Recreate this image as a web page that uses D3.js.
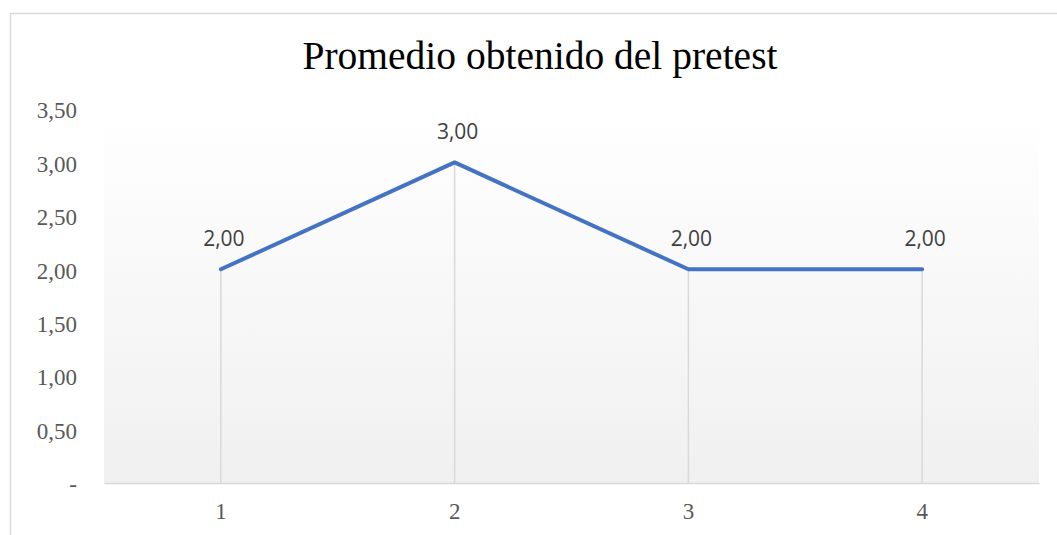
<!DOCTYPE html>
<html>
<head>
<meta charset="utf-8">
<script src="https://cdn.jsdelivr.net/npm/d3@7"></script>
<style>
  body { margin: 0; background: #fff; }
  svg { display: block; }
</style>
</head>
<body>
<div id="chart"></div>
<script>
// datos del pretest
var categories = ["1", "2", "3", "4"];
var values = [2, 3, 2, 2];
var yTicks = [0, 0.5, 1, 1.5, 2, 2.5, 3, 3.5];
var title = "Promedio obtenido del pretest";

var width = 1057,
    height = 535;

var plot = { left: 104, right: 1039, top: 109, bottom: 483 };

// formato con coma decimal, el cero se muestra como "-"
var fmt = function(v) {
  if (v === 0) return "-";
  return v.toFixed(2).replace(".", ",");
};

var svg = d3.select("#chart").append("svg")
    .attr("width", width)
    .attr("height", height);

var defs = svg.append("defs");
var grad = defs.append("linearGradient")
    .attr("id", "bg")
    .attr("x1", 0).attr("y1", 0)
    .attr("x2", 0).attr("y2", 1);
grad.append("stop").attr("offset", "0%").attr("stop-color", "#ffffff");
grad.append("stop").attr("offset", "100%").attr("stop-color", "#f0f0f0");

// chart border
svg.append("rect")
    .attr("x", 10.5)
    .attr("y", 13.5)
    .attr("width", 1080)
    .attr("height", 560)
    .attr("fill", "#fff")
    .attr("stroke", "#d9d9d9")
    .attr("stroke-width", 1.5);

var xScale = d3.scaleBand()
    .domain(categories)
    .range([plot.left, plot.right]);

var yScale = d3.scaleLinear()
    .domain([0, 3.5])
    .range([plot.bottom, plot.top]);

var cx = function(d) { return xScale(d) + xScale.bandwidth() / 2; };

// plot area background
svg.append("rect")
    .attr("x", plot.left)
    .attr("y", plot.top)
    .attr("width", plot.right - plot.left)
    .attr("height", plot.bottom - plot.top)
    .attr("fill", "url(#bg)");

// drop lines
svg.append("g").selectAll("line")
    .data(categories)
  .enter()
    .append("line")
    .attr("x1", cx)
    .attr("x2", cx)
    .attr("y1", function(d, i) { return yScale(values[i]); })
    .attr("y2", yScale(0))
    .attr("stroke", "#d9d9d9")
    .attr("stroke-width", 1.5);

// x axis
var xAxis = d3.axisBottom(xScale).tickSize(0).tickPadding(20);
var gx = svg.append("g")
    .attr("transform", "translate(0," + yScale(0) + ")")
    .call(xAxis);
gx.select(".domain").attr("stroke", "#d9d9d9").attr("stroke-width", 1.5);
gx.selectAll("text")
    .attr("font-family", "'Liberation Serif', 'Times New Roman', serif")
    .attr("font-size", 23)
    .attr("fill", "#595959");

// y axis
var yAxis = d3.axisLeft(yScale).tickValues(yTicks).tickFormat(fmt).tickSize(0).tickPadding(27);
var gy = svg.append("g")
    .attr("transform", "translate(" + plot.left + ",0)")
    .call(yAxis);
gy.select(".domain").remove();
gy.selectAll("text")
    .attr("font-family", "'Liberation Serif', 'Times New Roman', serif")
    .attr("font-size", 23)
    .attr("dy", "0.38em")
    .attr("fill", "#595959");

// line
var line = d3.line()
    .x(function(d, i) { return cx(categories[i]); })
    .y(function(d) { return yScale(d); });

svg.append("path")
    .datum(values)
    .attr("d", line)
    .attr("fill", "none")
    .attr("stroke", "#4472c4")
    .attr("stroke-width", 4)
    .attr("stroke-linejoin", "round")
    .attr("stroke-linecap", "round");

// data labels
svg.append("g").selectAll("text")
    .data(values)
  .enter()
    .append("text")
    .attr("x", function(d, i) { return cx(categories[i]) + 3; })
    .attr("y", function(d) { return yScale(d) - 23; })
    .attr("text-anchor", "middle")
    .attr("font-family", "'Open Sans', 'Liberation Sans', sans-serif")
    .attr("font-size", 21)
    .attr("fill", "#404040")
    .text(fmt);

// title
svg.append("text")
    .attr("x", 540)
    .attr("y", 69)
    .attr("text-anchor", "middle")
    .attr("font-family", "'Liberation Serif', 'Times New Roman', serif")
    .attr("font-size", 39.5)
    .attr("fill", "#000")
    .text(title);
</script>
</body>
</html>
